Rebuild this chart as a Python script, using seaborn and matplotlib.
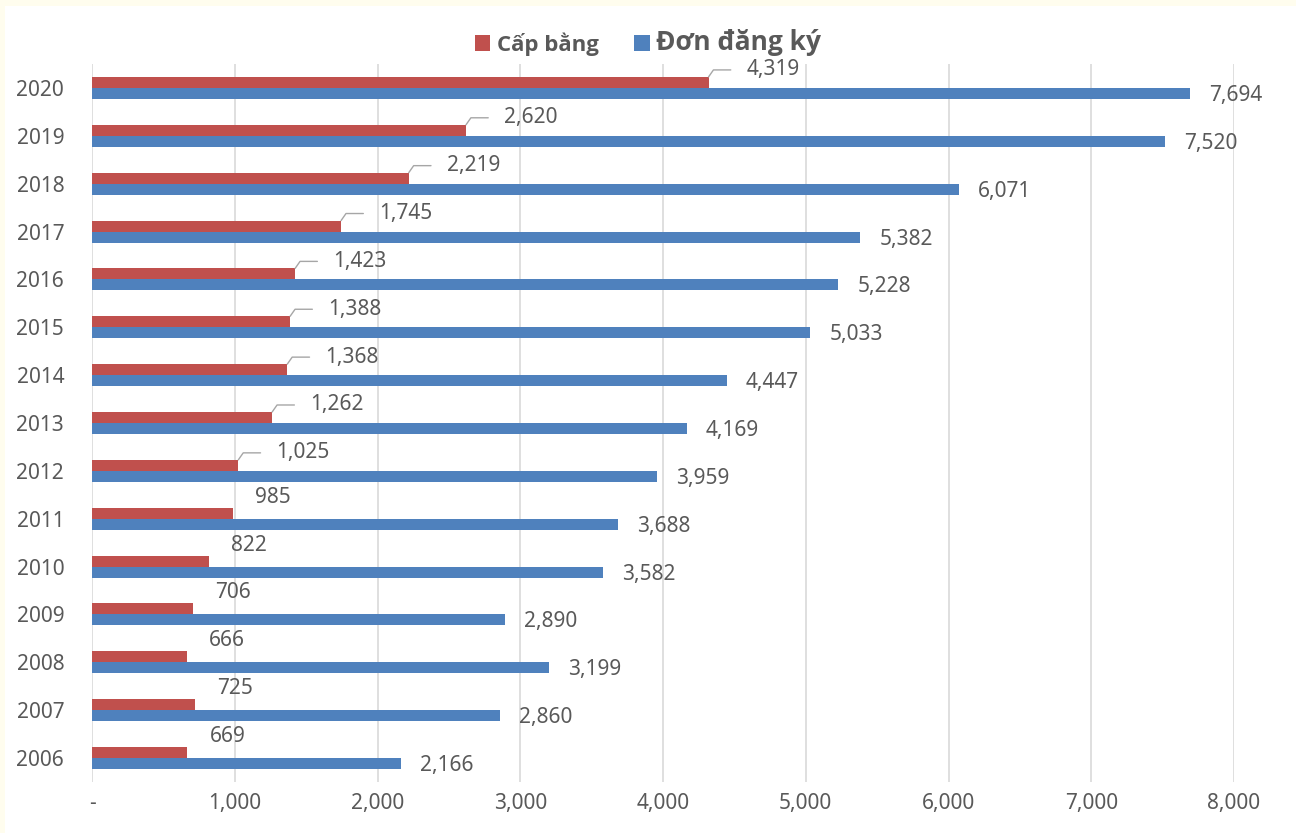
import numpy as np
import pandas as pd
import seaborn as sns
import matplotlib
matplotlib.use("Agg")
import matplotlib.pyplot as plt
from matplotlib.patches import Patch, Rectangle
from matplotlib import font_manager as fm

# ---------------- data ----------------
years = ["2020", "2019", "2018", "2017", "2016", "2015", "2014", "2013",
         "2012", "2011", "2010", "2009", "2008", "2007", "2006"]
cap_bang = [4319, 2620, 2219, 1745, 1423, 1388, 1368, 1262,
            1025, 985, 822, 706, 666, 725, 669]
don_dang_ky = [7694, 7520, 6071, 5382, 5228, 5033, 4447, 4169,
               3959, 3688, 3582, 2890, 3199, 2860, 2166]
series_names = ["Cấp bằng", "Đơn đăng ký"]
x_ticks = [0, 1000, 2000, 3000, 4000, 5000, 6000, 7000, 8000]
x_tick_labels = ["-", "1,000", "2,000", "3,000", "4,000", "5,000", "6,000", "7,000", "8,000"]

# ---------------- style ----------------
RED = "#C0504D"
BLUE = "#4F81BD"
TXT = "#595959"
GRID = "#D9D9D9"
FONT = ["Noto Sans", "DejaVu Sans"]

sns.set_style("white")
plt.rcParams["font.family"] = FONT

df = pd.DataFrame({
    "year": years * 2,
    "series": [series_names[0]] * len(years) + [series_names[1]] * len(years),
    "value": cap_bang + don_dang_ky,
})

DPI = 100
fig = plt.figure(figsize=(12.96, 8.33), dpi=DPI, facecolor="white")
# pale cream border strips (top and left)
fig.patches.append(Rectangle((0, 1 - 6 / 833), 1, 6 / 833, transform=fig.transFigure,
                             facecolor="#FFFDEE", edgecolor="none", zorder=-10))
fig.patches.append(Rectangle((0, 0), 5 / 1296, 1, transform=fig.transFigure,
                             facecolor="#FFFDEE", edgecolor="none", zorder=-10))

ax = fig.add_axes([92 / 1296, 1 - 782 / 833, (1234 - 92) / 1296, (782 - 64) / 833])

sns.barplot(data=df, y="year", x="value", hue="series", order=years,
            hue_order=series_names, palette=[RED, BLUE], saturation=1,
            width=0.46, orient="h", ax=ax, legend=False, linewidth=0)

ax.set_xlim(0, 8000)
ax.set_ylim(len(years) - 0.5, -0.5)
ax.set_xticks(x_ticks)
ax.set_xticklabels(x_tick_labels)
ax.set_xlabel("")
ax.set_ylabel("")
for s in ax.spines.values():
    s.set_visible(False)
ax.grid(axis="x", color=GRID, linewidth=1.2)
ax.grid(axis="y", visible=False)
ax.set_axisbelow(True)
ax.tick_params(axis="both", length=0, labelsize=15, labelcolor=TXT)
ax.tick_params(axis="x", pad=8)
ax.tick_params(axis="y", pad=20)

# ---------------- data labels ----------------
red_bars = ax.containers[0]
blue_bars = ax.containers[1]

for bar, v in zip(blue_bars.patches, don_dang_ky):
    yc = bar.get_y() + bar.get_height() / 2
    ax.annotate(f"{v:,}", xy=(bar.get_width(), yc), xytext=(19, -2),
                textcoords="offset pixels", ha="left", va="center",
                fontsize=15, color=TXT)

for bar, v in zip(red_bars.patches, cap_bang):
    top = bar.get_y()  # upper edge (y axis inverted)
    end = bar.get_width()
    if v >= 1000:
        ax.annotate(f"{v:,}", xy=(end, top), xytext=(38, 7),
                    textcoords="offset pixels", ha="left", va="center",
                    fontsize=15, color=TXT,
                    arrowprops=dict(arrowstyle="-", color="#A6A6A6", lw=1,
                                    shrinkA=9, shrinkB=0, relpos=(0, 0.5),
                                    connectionstyle="angle,angleA=0,angleB=55"))
    else:
        yc = top + bar.get_height() / 2
        ax.annotate(f"{v:,}", xy=(end, yc), xytext=(22, 16),
                    textcoords="offset pixels", ha="left", va="center",
                    fontsize=15, color=TXT)

# ---------------- legend ----------------
handles = [Patch(facecolor=RED, edgecolor="none"), Patch(facecolor=BLUE, edgecolor="none")]
leg = fig.legend(handles, series_names, loc="center", ncol=2,
                 bbox_to_anchor=(0.5, 1 - 43 / 833), frameon=False,
                 handlelength=0.7, handleheight=0.7, handletextpad=0.3,
                 columnspacing=1.6, fontsize=16)
sizes = [16, 19]
for t, sz in zip(leg.get_texts(), sizes):
    t.set_color(TXT)
    t.set_fontproperties(fm.FontProperties(family=["Open Sans", "Noto Sans", "DejaVu Sans"],
                                           weight="bold", size=sz))

fig.savefig("out.png", dpi=DPI, facecolor=fig.get_facecolor())
